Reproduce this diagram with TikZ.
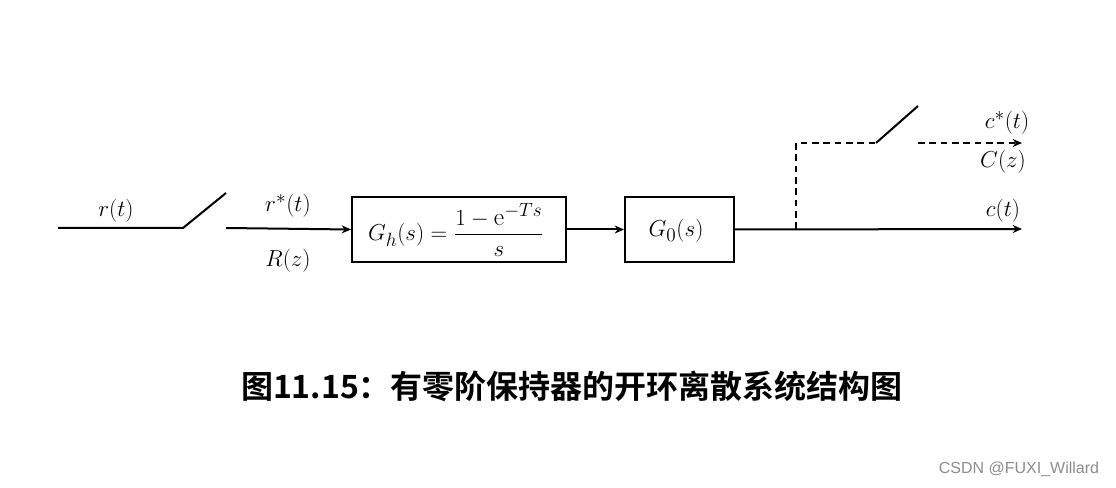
\documentclass[tikz,border=0pt]{standalone}
\usepackage{amsmath}
\usepackage{fontspec}
\usetikzlibrary{arrows.meta}
\newfontfamily\cjkbold{Noto Sans CJK SC Bold}
\newfontfamily\wmfont{Liberation Sans}
\begin{document}
\begin{tikzpicture}[x=0.75pt,y=-0.75pt,
  wire/.style={line width=1.5pt},
  arr/.style={wire,-{Stealth[length=7pt,width=6pt]}},
  dwire/.style={wire,dash pattern=on 5pt off 3.5pt},
  blk/.style={draw,line width=1.5pt,minimum height=48.75pt,inner sep=0pt},
  lbl/.style={font=\fontsize{19}{21}\selectfont,inner sep=0pt}]
\useasboundingbox (0,0) rectangle (1116,488);
% nodes
\coordinate (a0) at (58,228);
\coordinate (s1a) at (183,228);
\coordinate (s1b) at (226,193);
\coordinate (s1c) at (226,228);
\node[blk,minimum width=160.5pt] (gh) at (459,229.5) {};
\node[lbl] (ghtext) at (456,230) {$G_h(s)=\dfrac{1-\mathrm{e}^{-Ts}}{s}$};
\node[blk,minimum width=81.75pt] (g0) at (679.5,229.5) {};
\node[lbl] (g0text) at (676,231) {$G_0(s)$};
\coordinate (out) at (1022,229);
\coordinate (br) at (796,229);
\coordinate (bt) at (796,143);
\coordinate (s2a) at (876,143);
\coordinate (s2b) at (918,106);
\coordinate (s2c) at (918,143);
\coordinate (out2) at (1022,143);
% connectors
\draw[wire] (a0) -- (s1a) -- (s1b);
\draw[arr] (s1c) -- (gh.west);
\draw[arr] (gh.east) -- (g0.west);
\draw[arr] (g0.east) -- (out);
\draw[dwire] (br) -- (bt) -- (s2a);
\draw[wire] (s2a) -- (s2b);
\draw[dwire,-{Stealth[length=7pt,width=6pt]}] (s2c) -- (out2);
% labels
\node[lbl] (lr) at (116,211) {$r(t)$};
\node[lbl] (lrs) at (288,206) {$r^{*}(t)$};
\node[lbl] (lR) at (288,261) {$R(z)$};
\node[lbl] (lc) at (1003,211) {$c(t)$};
\node[lbl] (lcs) at (1007,123) {$c^{*}(t)$};
\node[lbl] (lC) at (1003,162) {$C(z)$};
\node[inner sep=0pt,font=\cjkbold\fontsize{24}{27}\selectfont] (title) at (572,386) {图11.15：有零阶保持器的开环离散系统结构图};
\node[inner sep=0pt,font=\wmfont\fontsize{12}{14}\selectfont,text=black!45] (wm) at (1019,469) {CSDN @FUXI\_Willard};
\end{tikzpicture}
\end{document}
